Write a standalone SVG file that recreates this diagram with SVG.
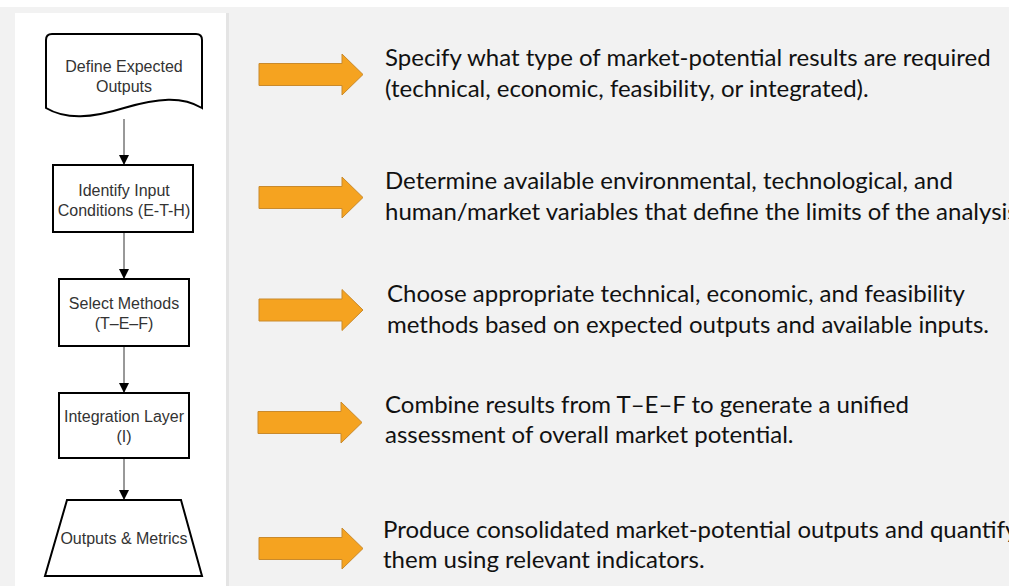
<svg xmlns="http://www.w3.org/2000/svg" width="1009" height="586" viewBox="0 0 1009 586">
  <style>
    .shape { fill: #ffffff; stroke: #000000; stroke-width: 2; }
    .lbl { font-family: "Liberation Sans", Arial, sans-serif; font-size: 16px; fill: #333333; text-anchor: middle; }
    .desc { font-family: Lato, "Open Sans", sans-serif; font-size: 24px; fill: #111111; }
    .flow { stroke: #333333; stroke-width: 1; fill: none; marker-end: url(#head); }
    .pointer { fill: #f5a320; stroke: #c98a2c; stroke-width: 1; }
  </style>
  <defs>
    <marker id="head" viewBox="0 0 10 10" refX="10" refY="5" markerWidth="10" markerHeight="10" markerUnits="userSpaceOnUse" orient="auto">
      <path d="M0,0 L10,5 L0,10 Z" fill="#000000"/>
    </marker>
    <path id="block-arrow" d="M0,-11 L83,-11 L83,-20.5 L104,0 L83,20.5 L83,11 L0,11 Z"/>
  </defs>

  <!-- page background -->
  <rect x="0" y="0" width="1009" height="586" fill="#ffffff"/>
  <rect x="0" y="7" width="1009" height="579" fill="#f2f2f2"/>
  <rect x="226" y="13" width="3" height="573" fill="#e4e4e4"/>
  <rect x="15" y="13" width="211" height="573" fill="#ffffff"/>

  <!-- flow connectors -->
  <g id="connectors">
    <line class="flow" x1="124" y1="119" x2="124" y2="165"/>
    <line class="flow" x1="124" y1="232" x2="124" y2="279"/>
    <line class="flow" x1="124" y1="346" x2="124" y2="393"/>
    <line class="flow" x1="124" y1="458" x2="124" y2="500"/>
  </g>

  <g id="define-outputs">
    <path class="shape" d="M46,40 Q46,34 52,34 L196,34 Q202,34 202,40 L202,108 C182,96 158,98 124,108 C92,118 66,120 46,108 Z"/>
    <text class="lbl" x="124" y="72">Define Expected</text>
    <text class="lbl" x="124" y="92">Outputs</text>
  </g>

  <g id="identify-inputs">
    <rect class="shape" x="53" y="165" width="140" height="67"/>
    <text class="lbl" x="124" y="196">Identify Input</text>
    <text class="lbl" x="124" y="216">Conditions (E-T-H)</text>
  </g>

  <g id="select-methods">
    <rect class="shape" x="59" y="279" width="130" height="67"/>
    <text class="lbl" x="124" y="309">Select Methods</text>
    <text class="lbl" x="124" y="329">(T–E–F)</text>
  </g>

  <g id="integration-layer">
    <rect class="shape" x="59" y="393" width="130" height="65"/>
    <text class="lbl" x="124" y="422">Integration Layer</text>
    <text class="lbl" x="124" y="442">(I)</text>
  </g>

  <g id="outputs-metrics">
    <path class="shape" d="M67,500 L181,500 L202,576 L45,576 Z"/>
    <text class="lbl" x="124" y="544">Outputs &amp; Metrics</text>
  </g>

  <!-- step descriptions -->
  <g id="note-outputs">
    <use href="#block-arrow" class="pointer" transform="translate(259,74.5)"/>
    <text class="desc" x="385" y="66">Specify what type of market-potential results are required</text>
    <text class="desc" x="385" y="97">(technical, economic, feasibility, or integrated).</text>
  </g>

  <g id="note-inputs">
    <use href="#block-arrow" class="pointer" transform="translate(259,197.5)"/>
    <text class="desc" x="385" y="189">Determine available environmental, technological, and</text>
    <text class="desc" x="385" y="220">human/market variables that define the limits of the analysis</text>
  </g>

  <g id="note-methods">
    <use href="#block-arrow" class="pointer" transform="translate(259,310)"/>
    <text class="desc" x="387" y="302">Choose appropriate technical, economic, and feasibility</text>
    <text class="desc" x="387" y="333">methods based on expected outputs and available inputs.</text>
  </g>

  <g id="note-integration">
    <use href="#block-arrow" class="pointer" transform="translate(258,422.5)"/>
    <text class="desc" x="385" y="413">Combine results from T–E–F to generate a unified</text>
    <text class="desc" x="385" y="443">assessment of overall market potential.</text>
  </g>

  <g id="note-metrics">
    <use href="#block-arrow" class="pointer" transform="translate(259,548.5)"/>
    <text class="desc" x="383" y="538">Produce consolidated market-potential outputs and quantify</text>
    <text class="desc" x="383" y="568">them using relevant indicators.</text>
  </g>
</svg>
